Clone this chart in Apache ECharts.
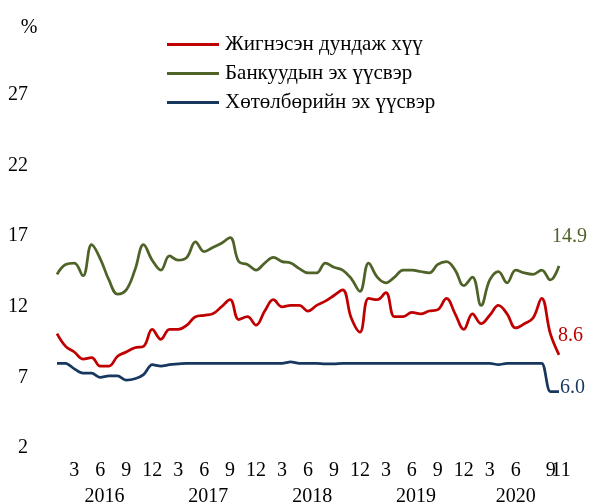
<!DOCTYPE html>
<html>
<head>
<meta charset="utf-8">
<script src="https://cdn.jsdelivr.net/npm/echarts@6/dist/echarts.min.js"></script>
<style>
  html, body { margin: 0; padding: 0; background: #fff; }
  #chart { width: 591px; height: 504px; }
</style>
</head>
<body>
<div id="chart"></div>
<script>
// 年份与每年显示的月份刻度
const years = ['2016', '2017', '2018', '2019', '2020']
const monthsPerYear = [12, 12, 12, 12, 11]
const shownMonths = ['3', '6', '9', '12', '11']

// 系列名称
const seriesNames = ['Жигнэсэн дундаж хүү', 'Банкуудын эх үүсвэр', 'Хөтөлбөрийн эх үүсвэр']

// 各系列数据（2016.1 – 2020.11）
const weighted = [10.1, 9.2, 8.8, 8.3, 8.4, 7.8, 7.8, 8.5, 8.8, 9.1,
  9.2, 10.4, 9.7, 10.4, 10.4, 10.7, 11.3, 11.4, 11.5, 12.0,
  12.5, 11.1, 11.3, 10.7, 11.7, 12.5, 12.0, 12.1, 12.1, 11.7,
  12.1, 12.4, 12.8, 13.2, 11.2, 10.2, 12.6, 12.5, 13.0, 11.3,
  11.3, 11.6, 11.5, 11.7, 11.8, 12.6, 11.5, 10.4, 11.5, 10.8,
  11.4, 12.1, 11.5, 10.5, 10.8, 11.2, 12.6, 10.1, 8.6]
const banks = [14.3, 15.0, 15.1, 14.2, 16.4, 15.4, 13.9, 12.9, 13.2, 14.6,
  16.4, 15.3, 14.6, 15.6, 15.3, 15.5, 16.6, 15.9, 16.2, 16.5,
  16.9, 15.2, 15.0, 14.6, 15.1, 15.5, 15.2, 15.1, 14.7, 14.4,
  14.4, 15.1, 14.8, 14.6, 14.0, 13.1, 15.1, 14.1, 13.7, 14.1,
  14.6, 14.6, 14.5, 14.4, 15.0, 15.2, 14.6, 13.5, 14.1, 12.1,
  13.9, 14.5, 13.7, 14.6, 14.4, 14.3, 14.6, 13.9, 14.9]
const program = [8.0, 8.0, 7.6, 7.3, 7.3, 7.0, 7.1, 7.1, 6.8, 6.9,
  7.2, 7.9, 7.8, 7.9, 7.95, 8.0, 8.0, 8.0, 8.0, 8.0,
  8.0, 8.0, 8.0, 8.0, 8.0, 8.0, 8.0, 8.1, 8.0, 8.0,
  8.0, 7.95, 7.95, 8.0, 8.0, 8.0, 8.0, 8.0, 8.0, 8.0,
  8.0, 8.0, 8.0, 8.0, 8.0, 8.0, 8.0, 8.0, 8.0, 8.0,
  8.0, 7.9, 8.0, 8.0, 8.0, 8.0, 8.0, 6.0, 6.0]

// Y 轴刻度
const yMin = 2
const yMax = 27
const yStep = 5

const colors = ['#C00000', '#4F6228', '#17375E']
const font = 'Liberation Serif'

// 构造类目：每个月一个
const categories = []
const monthLabel = []
const yearLabel = []
years.forEach((y, yi) => {
  for (let m = 1; m <= monthsPerYear[yi]; m++) {
    categories.push(y + '-' + m)
    const last = m === monthsPerYear[yi] && yi === years.length - 1
    monthLabel.push(shownMonths.indexOf(String(m)) >= 0 && (m % 3 === 0 || last) ? String(m) : '')
    yearLabel.push(m === (yi === years.length - 1 ? 6 : 7) ? y : '')
  }
})
const lastIdx = categories.length - 1
// 2020 年 9 月的标签单独放一根轴上，好让它贴近 “11”
const squeezedIdx = lastIdx - 2

const labelStyle = { fontFamily: font, fontSize: 20, color: '#000' }
const hiddenAxis = { show: false }

const chart = echarts.init(document.getElementById('chart'))

chart.setOption({
  animation: false,
  textStyle: { fontFamily: font },
  grid: { left: 57, right: 32, top: 95, bottom: 56, outerBoundsMode: 'none', containLabel: false },
  legend: {
    orient: 'vertical',
    left: 167,
    top: 34,
    padding: 0,
    icon: 'rect',
    itemWidth: 52,
    itemHeight: 3,
    itemGap: 8,
    data: seriesNames,
    textStyle: { fontFamily: font, fontSize: 21, color: '#000', lineHeight: 21, padding: [0, 0, 0, 1] }
  },
  xAxis: [{
    type: 'category',
    data: categories,
    boundaryGap: false,
    axisLine: hiddenAxis,
    axisTick: hiddenAxis,
    axisLabel: {
      interval: (i) => monthLabel[i] !== '' && i !== squeezedIdx,
      formatter: (v, i) => i === lastIdx ? '{e|' + monthLabel[i] + '}' : monthLabel[i],
      showMaxLabel: true,
      margin: 13,
      ...labelStyle,
      rich: { e: { ...labelStyle, padding: [0, 0, 0, 4] } }
    },
    splitLine: hiddenAxis
  }, {
    type: 'category',
    data: categories,
    boundaryGap: false,
    position: 'bottom',
    axisLine: hiddenAxis,
    axisTick: hiddenAxis,
    axisLabel: {
      interval: (i) => i === squeezedIdx,
      formatter: (v, i) => '{d|' + monthLabel[i] + '}',
      showMaxLabel: false,
      showMinLabel: false,
      margin: 13,
      ...labelStyle,
      rich: { d: { ...labelStyle, padding: [0, 0, 0, 18] } }
    },
    splitLine: hiddenAxis
  }, {
    type: 'category',
    data: categories,
    boundaryGap: false,
    position: 'bottom',
    offset: 28,
    axisLine: hiddenAxis,
    axisTick: hiddenAxis,
    axisLabel: {
      interval: (i) => yearLabel[i] !== '',
      formatter: (v, i) => i === categories.length - 6 ? '{b|' + yearLabel[i] + '}' : '{a|' + yearLabel[i] + '}',
      margin: 11,
      ...labelStyle,
      rich: {
        a: { ...labelStyle, padding: [0, 9, 0, 0] },
        b: { ...labelStyle }
      }
    },
    splitLine: hiddenAxis
  }],
  yAxis: {
    type: 'value',
    min: yMin,
    max: yMax,
    interval: yStep,
    name: '%',
    nameLocation: 'end',
    nameGap: 67,
    nameTextStyle: { ...labelStyle, align: 'center', verticalAlign: 'middle', padding: [0, 56, 0, 0] },
    axisLine: hiddenAxis,
    axisTick: hiddenAxis,
    splitLine: hiddenAxis,
    axisLabel: { margin: 29, ...labelStyle, padding: [16, 0, 0, 0] }
  },
  series: [{
    name: seriesNames[0],
    type: 'line',
    data: weighted,
    smooth: 0.4,
    symbol: 'none',
    lineStyle: { color: colors[0], width: 2.75 },
    itemStyle: { color: colors[0] },
    endLabel: {
      show: true,
      formatter: (p) => p.value.toFixed(1),
      offset: [-9, -19],
      ...labelStyle,
      color: colors[0]
    }
  }, {
    name: seriesNames[1],
    type: 'line',
    data: banks,
    smooth: 0.4,
    symbol: 'none',
    lineStyle: { color: colors[1], width: 2.75 },
    itemStyle: { color: colors[1] },
    endLabel: {
      show: true,
      formatter: (p) => p.value.toFixed(1),
      offset: [-15, -29],
      ...labelStyle,
      color: colors[1]
    }
  }, {
    name: seriesNames[2],
    type: 'line',
    data: program,
    smooth: 0.3,
    symbol: 'none',
    lineStyle: { color: colors[2], width: 2.75 },
    itemStyle: { color: colors[2] },
    endLabel: {
      show: true,
      formatter: (p) => p.value.toFixed(1),
      offset: [-7, -4],
      ...labelStyle,
      color: colors[2]
    }
  }]
})
</script>
</body>
</html>
